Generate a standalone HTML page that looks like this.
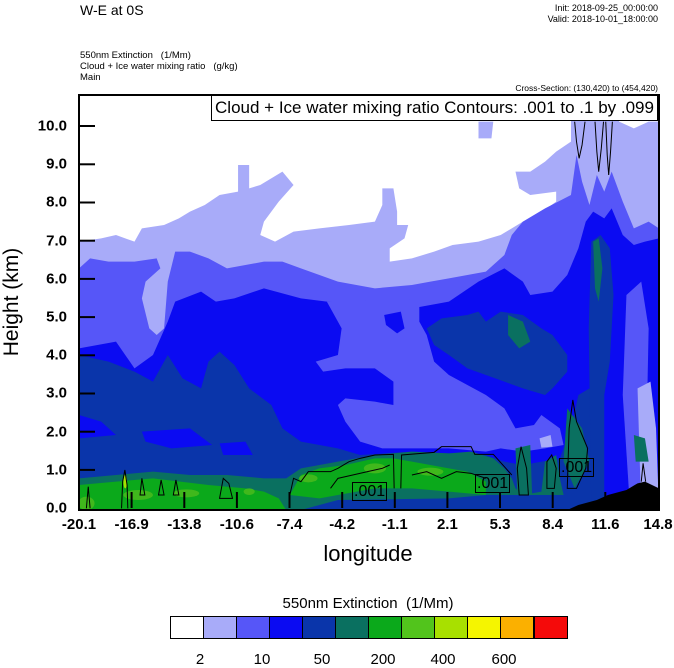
<!DOCTYPE html>
<html><head><meta charset="utf-8"><style>
body{margin:0;background:#fff;width:674px;height:667px;position:relative;overflow:hidden;font-family:"Liberation Sans",sans-serif;color:#000}
.t{position:absolute;white-space:nowrap}
.yl{position:absolute;right:607px;font-size:15px;font-weight:bold;transform:translateY(-50%)}
.xl{position:absolute;top:516px;font-size:15px;font-weight:bold;transform:translateX(-50%)}
.lb{position:absolute;font-size:16px;border:1px solid #000;line-height:17px;padding:0 1px}
</style></head><body>
<div class="t" style="left:80px;top:2px;font-size:14px">W-E at 0S</div>
<div class="t" style="right:16px;top:3px;font-size:9px;text-align:right;line-height:11px">Init: 2018-09-25_00:00:00<br>Valid: 2018-10-01_18:00:00</div>
<div class="t" style="left:80px;top:50px;font-size:9.5px;line-height:11px">550nm Extinction&nbsp;&nbsp;&nbsp;(1/Mm)<br>Cloud + Ice water mixing ratio&nbsp;&nbsp;&nbsp;(g/kg)<br>Main</div>
<div class="t" style="right:16px;top:83px;font-size:8.5px">Cross-Section: (130,420) to (454,420)</div>

<svg style="position:absolute;left:79px;top:95px" width="580" height="415" viewBox="0 0 1568 1245" preserveAspectRatio="none">
<rect width="1568" height="1245" fill="#a8abf9"/>
<path fill="#fff" d="M0,0 L1320,0 L1330,75 L1330,140 L1290,170 L1260,200 L1220,230 L1180,230 L1190,280 L1220,300 L1290,290 L1290,320 L1240,360 L1200,380 L1170,400 L1140,420 L1080,440 L1010,450 L960,470 L900,490 L840,500 L840,460 L880,430 L890,390 L860,390 L860,350 L850,280 L820,280 L820,330 L800,380 L730,390 L650,400 L580,410 L530,440 L490,420 L500,380 L540,320 L580,270 L550,230 L490,270 L460,280 L460,210 L430,210 L430,290 L380,300 L340,330 L300,350 L270,370 L230,390 L170,400 L150,440 L100,420 L60,430 L0,440Z"/>
<path fill="#fff" d="M1450,0 L1568,0 L1568,80 L1540,80 L1500,100 L1460,80Z"/>
<path fill="#a8abf9" d="M1080,80 L1120,80 L1115,130 L1080,130Z"/>
<path fill="#5656f8" d="M0,550 L0,520 L30,490 L80,500 L150,500 L210,490 L220,520 L180,560 L170,610 L190,700 L210,720 L230,700 L240,560 L260,470 L300,470 L350,490 L400,520 L450,510 L500,500 L550,500 L600,520 L650,540 L700,560 L750,570 L800,580 L900,570 L950,560 L1000,550 L1050,540 L1100,530 L1150,480 L1170,420 L1200,380 L1260,340 L1330,300 L1345,180 L1360,260 L1380,330 L1400,240 L1420,290 L1440,230 L1470,320 L1500,400 L1540,380 L1568,400 L1568,1245 L0,1245Z"/>
<path fill="#0b0bf2" d="M0,760 L100,740 L150,820 L200,780 L240,680 L260,620 L330,590 L370,620 L420,610 L500,580 L600,610 L670,620 L900,640 L1000,620 L1080,560 L1150,520 L1200,560 L1220,600 L1280,590 L1320,540 L1350,460 L1370,380 L1390,350 L1420,370 L1440,340 L1470,420 L1500,450 L1530,440 L1568,430 L1568,1245 L0,1245Z"/>
<path fill="#5656f8" d="M670,620 L760,620 L840,600 L920,620 L920,680 L940,720 L960,800 L1000,840 L1050,870 L1100,900 L1150,940 L1180,1000 L1230,990 L1250,960 L1300,1000 L1310,1050 L1260,1060 L1200,1070 L1140,1060 L1100,1070 L1000,1060 L900,1060 L820,1060 L760,1040 L720,980 L700,930 L720,910 L800,920 L850,930 L850,860 L800,820 L720,820 L660,830 L640,800 L700,780 L710,700Z"/>
<path fill="#0b0bf2" d="M825,660 L870,650 L880,700 L860,715 L830,690Z"/>
<path fill="#5656f8" d="M1480,600 L1520,560 L1540,700 L1530,1245 L1490,1245 L1470,900Z"/>
<path fill="#a8abf9" d="M1510,880 L1545,860 L1560,1000 L1568,1245 L1520,1245Z"/>
<path fill="#a8abf9" d="M1245,1030 L1275,1020 L1280,1055 L1250,1058Z"/>
<path fill="#0a35aa" d="M0,1245 L0,780 L80,800 L150,830 L200,860 L240,780 L280,850 L330,880 L350,800 L380,770 L420,810 L460,880 L520,930 L550,1000 L600,1040 L700,1060 L760,1080 L900,1070 L1000,1075 L1100,1080 L1150,1100 L1200,1110 L1300,1090 L1330,1000 L1350,900 L1380,880 L1400,900 L1400,1245Z"/>
<path fill="#0a35aa" d="M940,700 L980,670 L1050,660 L1080,650 L1100,680 L1140,650 L1200,660 L1250,700 L1280,720 L1320,780 L1320,830 L1280,880 L1260,900 L1200,880 L1150,860 L1100,840 L1050,820 L1000,780 L960,750Z"/>
<path fill="#0a35aa" d="M1385,440 L1410,420 L1435,460 L1445,600 L1435,800 L1420,900 L1420,1245 L1385,1245 L1378,700Z"/>
<path fill="#0b0bf2" d="M0,960 L60,980 L100,1020 L0,1030Z M170,1010 L300,1000 L360,1050 L250,1060 L180,1040Z M380,1045 L450,1040 L470,1080 L390,1080Z"/>
<path fill="#0a7060" d="M1390,440 L1405,430 L1415,520 L1405,620 L1395,580Z M1160,660 L1200,680 L1220,740 L1190,760 L1160,720Z M1500,1020 L1530,1030 L1540,1100 L1505,1100Z"/>
<path fill="#0a7060" d="M0,1245 L0,1150 L100,1140 L200,1130 L300,1140 L400,1140 L500,1150 L560,1150 L600,1120 L700,1100 L750,1090 L800,1080 L850,1075 L900,1070 L1000,1075 L1060,1070 L1120,1090 L1150,1120 L1170,1150 L1180,1180 L1200,1200 L1250,1190 L1260,1100 L1290,1080 L1300,1150 L1310,1200 L1100,1200 L1000,1210 L700,1215 L600,1245Z"/>
<path fill="#0a7060" d="M1180,1060 L1220,1050 L1225,1200 L1185,1200Z M1320,940 L1360,1000 L1380,1100 L1340,1180 L1310,1100Z"/>
<path fill="#0ba91b" d="M0,1245 L0,1170 L100,1160 L200,1150 L350,1170 L450,1180 L500,1190 L540,1210 L560,1245Z M570,1200 L600,1140 L650,1120 L720,1110 L800,1090 L850,1090 L900,1100 L950,1110 L1000,1120 L1050,1130 L1100,1160 L1100,1200 L1000,1190 L900,1180 L800,1180 L700,1200 L650,1210Z"/>
<g fill="#40b81c"><ellipse cx="20" cy="1225" rx="22" ry="20"/><ellipse cx="160" cy="1200" rx="40" ry="15"/><ellipse cx="290" cy="1195" rx="35" ry="12"/><ellipse cx="460" cy="1190" rx="15" ry="10"/><ellipse cx="620" cy="1150" rx="25" ry="12"/><ellipse cx="800" cy="1120" rx="30" ry="15"/><ellipse cx="950" cy="1130" rx="35" ry="12"/></g>
<ellipse cx="125" cy="1160" rx="5" ry="20" fill="#a8e000"/>
<path fill="#000" d="M1320,1245 L1350,1230 L1400,1215 L1430,1200 L1480,1185 L1510,1165 L1530,1160 L1568,1180 L1568,1245Z"/>
<g fill="none" stroke="#000" stroke-width="1">
<path vector-effect="non-scaling-stroke" d="M1340,80 L1345,140 L1352,190 L1360,150 L1368,80 M1395,80 L1400,170 L1405,230 L1412,160 L1418,80 M1424,80 L1428,180 L1432,240 L1437,170 L1442,80"/>
<path vector-effect="non-scaling-stroke" d="M570,1200 L580,1150 L600,1160 L620,1130 L650,1130 L680,1130 L700,1120 L730,1100 L760,1090 L800,1080 L850,1078 L852,1180 M870,1180 L872,1080 L960,1072 L980,1055 L1060,1055 L1070,1078 L1120,1078 L1150,1115 L1170,1140"/>
<path vector-effect="non-scaling-stroke" d="M680,1180 L700,1150 L740,1140 L780,1130 L820,1120 L840,1110 M900,1140 L940,1130 L980,1150 L1020,1130 L1060,1135 L1100,1150"/>
<path vector-effect="non-scaling-stroke" d="M1190,1200 L1185,1120 L1195,1055 L1210,1120 L1215,1200Z M1265,1180 L1265,1100 L1278,1080 L1290,1120 L1285,1180Z M1320,1180 L1325,1000 L1335,915 L1345,980 L1360,1020 L1375,1060 L1370,1120 L1345,1180Z"/>
<path vector-effect="non-scaling-stroke" d="M115,1240 L118,1160 L124,1125 L130,1170 L132,1240 M165,1200 L170,1150 L178,1200Z M215,1200 L222,1155 L230,1200Z M255,1200 L262,1155 L270,1200Z M380,1210 L390,1150 L405,1165 L415,1210Z M20,1240 L25,1175 L30,1240 M1520,1160 L1525,1105 L1532,1160"/>
</g>
</svg>
<div style="position:absolute;left:78px;top:94px;width:578px;height:413px;border:2px solid #000"></div>
<div class="t" style="left:211px;top:95px;width:445px;height:24px;background:#fff;border:1px solid #000;font-size:17px;line-height:24px;text-align:center">Cloud + Ice water mixing ratio Contours: .001 to .1 by .099</div>
<div class="lb" style="left:352px;top:482px">.001</div>
<div class="lb" style="left:475px;top:474px">.001</div>
<div class="lb" style="left:559px;top:458px">.001</div>
<svg style="position:absolute;left:0;top:0" width="674" height="667">
<g stroke="#000" stroke-width="2">
<line x1="79" y1="126" x2="95" y2="126"/><line x1="79" y1="164.3" x2="95" y2="164.3"/><line x1="79" y1="202.5" x2="95" y2="202.5"/><line x1="79" y1="240.7" x2="95" y2="240.7"/><line x1="79" y1="278.9" x2="95" y2="278.9"/><line x1="79" y1="317.1" x2="95" y2="317.1"/><line x1="79" y1="355.3" x2="95" y2="355.3"/><line x1="79" y1="393.5" x2="95" y2="393.5"/><line x1="79" y1="431.7" x2="95" y2="431.7"/><line x1="79" y1="469.9" x2="95" y2="469.9"/>
<line x1="131.6" y1="508" x2="131.6" y2="492"/><line x1="184.3" y1="508" x2="184.3" y2="492"/><line x1="236.9" y1="508" x2="236.9" y2="492"/><line x1="289.5" y1="508" x2="289.5" y2="492"/><line x1="342.2" y1="508" x2="342.2" y2="492"/><line x1="394.8" y1="508" x2="394.8" y2="492"/><line x1="447.4" y1="508" x2="447.4" y2="492"/><line x1="500" y1="508" x2="500" y2="492"/><line x1="552.7" y1="508" x2="552.7" y2="492"/><line x1="605.3" y1="508" x2="605.3" y2="492"/>
</g></svg>
<div class="yl" style="top:126px">10.0</div><div class="yl" style="top:164px">9.0</div><div class="yl" style="top:202px">8.0</div><div class="yl" style="top:241px">7.0</div><div class="yl" style="top:279px">6.0</div><div class="yl" style="top:317px">5.0</div><div class="yl" style="top:355px">4.0</div><div class="yl" style="top:393px">3.0</div><div class="yl" style="top:432px">2.0</div><div class="yl" style="top:470px">1.0</div><div class="yl" style="top:508px">0.0</div>
<div class="xl" style="left:79px">-20.1</div><div class="xl" style="left:131.6px">-16.9</div><div class="xl" style="left:184.3px">-13.8</div><div class="xl" style="left:236.9px">-10.6</div><div class="xl" style="left:289.5px">-7.4</div><div class="xl" style="left:342.2px">-4.2</div><div class="xl" style="left:394.8px">-1.1</div><div class="xl" style="left:447.4px">2.1</div><div class="xl" style="left:500px">5.3</div><div class="xl" style="left:552.7px">8.4</div><div class="xl" style="left:605.3px">11.6</div><div class="xl" style="left:658px">14.8</div>
<div class="t" style="left:368px;top:541px;transform:translateX(-50%);font-size:22px">longitude</div>
<div class="t" style="left:12px;top:302px;transform:translate(-50%,-50%) rotate(-90deg);font-size:21px">Height (km)</div>
<div class="t" style="left:368px;top:595px;transform:translateX(-50%);font-size:15px">550nm Extinction&nbsp;&nbsp;(1/Mm)</div>
<svg style="position:absolute;left:170px;top:616px" width="398" height="24">
<g stroke="#000" stroke-width="1">
<rect x="0.5" y="0.5" width="33" height="22" fill="#fff"/><rect x="33.5" y="0.5" width="33" height="22" fill="#a8abf9"/><rect x="66.5" y="0.5" width="33" height="22" fill="#5656f8"/><rect x="99.5" y="0.5" width="33" height="22" fill="#0b0bf2"/><rect x="132.5" y="0.5" width="33" height="22" fill="#0a35aa"/><rect x="165.5" y="0.5" width="33" height="22" fill="#0a7060"/><rect x="198.5" y="0.5" width="33" height="22" fill="#0ba91b"/><rect x="231.5" y="0.5" width="33" height="22" fill="#52c41c"/><rect x="264.5" y="0.5" width="33" height="22" fill="#a8e000"/><rect x="297.5" y="0.5" width="33" height="22" fill="#f5f500"/><rect x="330.5" y="0.5" width="33" height="22" fill="#fbb000"/><rect x="363.5" y="0.5" width="33" height="22" fill="#fb5a00"/>
</g></svg>
<div style="position:absolute;left:534px;top:616px;width:33px;height:22px;background:#f50a0a;border:1px solid #000;box-sizing:border-box;width:34px;height:23px"></div>
<div class="t" style="left:200px;top:651px;transform:translateX(-50%);font-size:15px">2</div>
<div class="t" style="left:262px;top:651px;transform:translateX(-50%);font-size:15px">10</div>
<div class="t" style="left:322px;top:651px;transform:translateX(-50%);font-size:15px">50</div>
<div class="t" style="left:383px;top:651px;transform:translateX(-50%);font-size:15px">200</div>
<div class="t" style="left:443px;top:651px;transform:translateX(-50%);font-size:15px">400</div>
<div class="t" style="left:504px;top:651px;transform:translateX(-50%);font-size:15px">600</div>
</body></html>
